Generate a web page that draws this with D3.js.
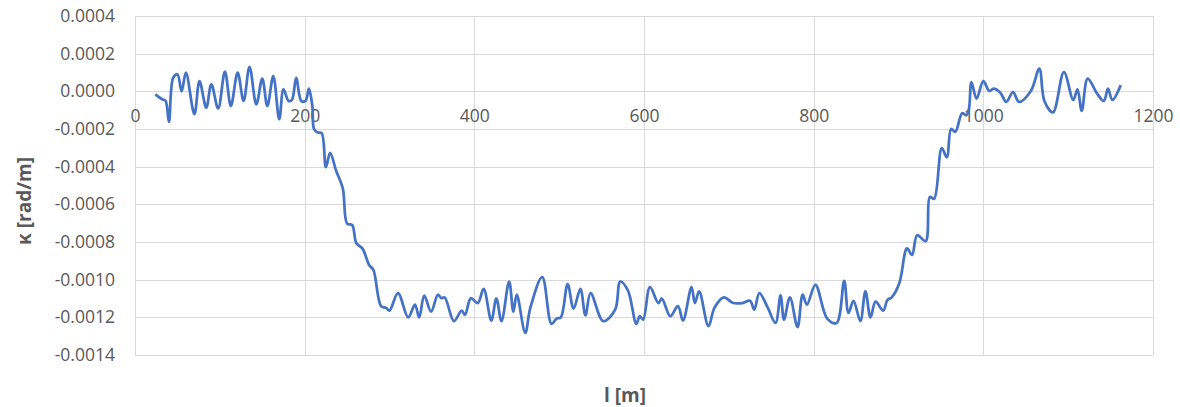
<!DOCTYPE html>
<html>
<head>
<meta charset="utf-8">
<script src="https://cdn.jsdelivr.net/npm/d3@7"></script>
<style>
  body { margin: 0; background: white; }
  svg#vis-curv { display: block; font-family: "Open Sans", sans-serif; }
</style>
</head>
<body>
<svg id="vis-curv" width="1180" height="407"></svg>
<script>

const lengths = [
    24, 32, 36, 40, 45, 50, 55, 60, 70, 76, 84, 90, 98, 106, 113, 121, 128, 135, 143, 150,
    156, 163, 170, 175, 181, 185, 190, 196, 201, 205, 209, 211, 215, 220, 225, 230, 237, 245, 250, 256,
    261, 268, 276, 281, 290, 296, 300, 310, 322, 330, 335, 341, 349, 357, 361, 365, 376, 385, 389, 396,
    404, 411, 420, 426, 432, 441, 446, 450, 460, 466, 480, 491, 497, 502, 510, 517, 525, 531, 537, 552,
    566, 572, 581, 591, 595, 599, 607, 617, 621, 631, 640, 646, 656, 660, 665, 676, 683, 694, 705, 716,
    725, 730, 736, 746, 755, 761, 765, 772, 781, 787, 792, 802, 816, 827, 836, 841, 847, 855, 861, 867,
    873, 882, 887, 892, 901, 910, 916, 922, 932, 937, 942, 951, 957, 962, 967, 975, 980, 983, 986, 992,
    1000, 1007, 1012, 1020, 1027, 1035, 1042, 1056, 1066, 1072, 1082, 1095, 1106, 1111, 1116, 1123, 1134, 1142, 1147, 1152,
    1162
];

// curvature, in 1e-4 rad/m
const kappa = [
    -0.16, -0.42, -0.5, -1.62, 0.72, 0.9, 0.0, 0.99, -1.21, 0.54, -0.86, 0.37, -0.91, 1.04, -0.77, 0.99, -0.51, 1.3, -0.69, 0.67,
    -0.77, 0.81, -1.48, 0.1, -0.51, -0.45, 0.72, -0.51, -0.51, 0.14, -0.77, -2.0, -2.18, -2.22, -4.03, -3.27, -4.2, -5.17, -7.02, -7.1,
    -8.07, -8.34, -9.22, -9.48, -11.4, -11.5, -11.64, -10.71, -12.0, -11.33, -12.0, -10.85, -11.7, -10.8, -10.98, -10.94, -12.2, -11.64, -11.86, -10.98,
    -11.24, -10.49, -12.17, -11.0, -12.2, -10.1, -11.7, -10.8, -12.82, -11.5, -9.87, -12.35, -12.07, -12.0, -10.24, -11.54, -10.49, -11.89, -10.71, -12.2,
    -11.59, -10.1, -10.57, -12.35, -11.94, -12.12, -10.4, -11.24, -11.0, -11.94, -11.41, -12.17, -10.4, -11.24, -10.62, -12.47, -11.5, -10.94, -11.24, -11.24,
    -11.12, -11.59, -10.71, -11.5, -12.3, -10.83, -12.12, -10.94, -12.52, -10.8, -11.33, -10.27, -12.07, -12.3, -10.06, -11.77, -11.12, -12.2, -10.62, -12.0,
    -11.17, -11.64, -11.07, -10.94, -10.18, -8.34, -8.69, -7.64, -7.95, -5.61, -5.7, -3.02, -3.5, -2.0, -2.15, -1.16, -1.27, -0.95, 0.49, -0.39,
    0.54, 0.02, 0.14, -0.07, -0.56, -0.04, -0.56, 0.02, 1.2, -0.51, -1.12, 1.02, -0.46, 0.1, -1.04, 0.67, -0.11, -0.51, 0.14, -0.46,
    0.33
];

const xTicks = [0, 200, 400, 600, 800, 1000, 1200];
const yTicks = [0.0004, 0.0002, 0, -0.0002, -0.0004, -0.0006, -0.0008, -0.0010, -0.0012, -0.0014];

const xTitle = "l [m]";
const yTitle = "κ [rad/m]";

const chart = {

    dims : { left : 135, right : 1153, top : 16, bottom : 355 },

    colors : { line : "#4472C4", grid : "#d9d9d9", text : "#595959" },

    scales : {

        x : () => d3.scaleLinear().domain([0, 1200]).range([chart.dims.left, chart.dims.right]),
        y : () => d3.scaleLinear().domain([-0.0014, 0.0004]).range([chart.dims.bottom, chart.dims.top])

    },

    render : {

        grid : function(svg) {

            let x = chart.scales.x();
            let y = chart.scales.y();

            svg.append("g")
                .selectAll("line")
                .data(yTicks)
                .join("line")
                .attr("x1", chart.dims.left)
                .attr("x2", chart.dims.right)
                .attr("y1", d => Math.round(y(d)) + 0.5)
                .attr("y2", d => Math.round(y(d)) + 0.5)
                .attr("stroke", chart.colors.grid);

            svg.append("g")
                .selectAll("line")
                .data(xTicks)
                .join("line")
                .attr("x1", d => Math.round(x(d)) + 0.5)
                .attr("x2", d => Math.round(x(d)) + 0.5)
                .attr("y1", chart.dims.top)
                .attr("y2", chart.dims.bottom)
                .attr("stroke", chart.colors.grid);

        },

        axes : function(svg) {

            let x = chart.scales.x();
            let y = chart.scales.y();

            const fmt = d3.formatLocale({ decimal : ".", thousands : ",", grouping : [3], currency : ["", ""], minus : "-" }).format(".4f");

            let gy = svg.append("g")
                .attr("transform", `translate(${chart.dims.left},0)`)
                .call(d3.axisLeft(y).tickValues(yTicks).tickFormat(fmt).tickSize(0).tickPadding(20));

            gy.select(".domain").remove();
            gy.selectAll("text")
                .attr("fill", chart.colors.text)
                .style("font-size", "17.5px")
                .style("font-family", "'Open Sans', sans-serif");

            let gx = svg.append("g")
                .attr("transform", `translate(0,${y(0)})`)
                .call(d3.axisBottom(x).tickValues(xTicks).tickFormat(d3.format("d")).tickSize(0).tickPadding(18));

            gx.select(".domain").remove();
            gx.selectAll("text")
                .attr("fill", chart.colors.text)
                .style("font-size", "17.5px")
                .style("font-family", "'Open Sans', sans-serif");

            svg.append("text")
                .attr("x", 625)
                .attr("y", 402)
                .attr("text-anchor", "middle")
                .attr("fill", chart.colors.text)
                .attr("font-weight", "bold")
                .attr("font-size", 19)
                .text(xTitle);

            svg.append("text")
                .attr("transform", "translate(31,201) rotate(-90)")
                .attr("text-anchor", "middle")
                .attr("fill", chart.colors.text)
                .attr("font-weight", "bold")
                .attr("font-size", 19)
                .text(yTitle);

        },

        line : function(svg) {

            let x = chart.scales.x();
            let y = chart.scales.y();

            let points = lengths.map((l, i) => [l, kappa[i] * 1e-4]);

            svg.append("path")
                .datum(points)
                .attr("fill", "none")
                .attr("stroke", chart.colors.line)
                .attr("stroke-width", 2.75)
                .attr("stroke-linejoin", "round")
                .attr("d", d3.line()
                    .x(d => x(d[0]))
                    .y(d => y(d[1]))
                    .curve(d3.curveCatmullRom.alpha(0.5)));

        }

    },

    init : function() {

        let svg = d3.select("svg#vis-curv");

        chart.render.grid(svg);
        chart.render.axes(svg);
        chart.render.line(svg);

    }

}

chart.init();
</script>
</body>
</html>
